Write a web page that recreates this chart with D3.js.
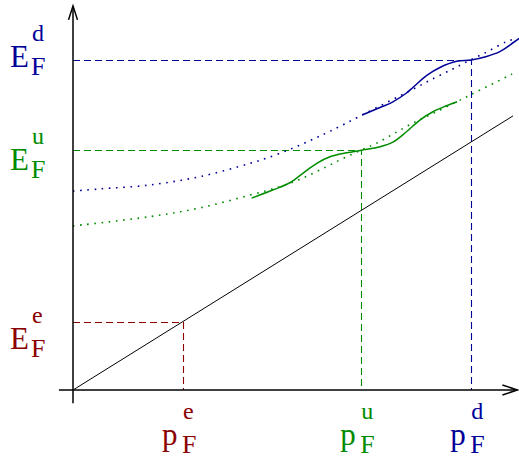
<!DOCTYPE html>
<html lang="en">
<head>
    <meta charset="UTF-8">
    <title>Fermi energies</title>
    <script src="https://cdn.jsdelivr.net/npm/d3@7"></script>
    <style>
        body { margin: 0; background: #fff; }
    </style>
</head>
<body>
    <script>
        // Fermi momenta / energies for e, u, d (chart units)
        const species = ["e", "u", "d"];
        const colors = ["#8b0000", "#008c00", "#000099"];
        const fermiMomentum = [2.5, 6.55, 9.05];
        const fermiEnergy = [1.55, 5.45, 7.5];

        // straight dispersion line (electron)
        const lineE = [[0, 0], [10, 6.23]];

        // dotted curves
        const dottedU = [[0, 3.73], [1.75, 3.94], [2.89, 4.14], [4.02, 4.43], [4.70, 4.62], [5.16, 4.79],
            [5.61, 5.0], [6.07, 5.23], [6.52, 5.44], [6.90, 5.61], [7.28, 5.82], [7.73, 6.07],
            [8.19, 6.29], [8.72, 6.55], [9.18, 6.78], [9.98, 7.18]];
        const dottedD = [[0, 4.52], [0.61, 4.57], [1.75, 4.66], [2.89, 4.85], [4.02, 5.15], [4.40, 5.27],
            [4.93, 5.47], [5.39, 5.67], [5.84, 5.88], [6.57, 6.25], [7.81, 6.88], [8.27, 7.12],
            [8.64, 7.30], [8.95, 7.46], [9.40, 7.68], [9.86, 7.92], [10.09, 7.99]];

        // solid wiggly curves
        const solidU = [[4.06, 4.36], [4.55, 4.55], [4.93, 4.71], [5.23, 4.93], [5.54, 5.15], [5.84, 5.30],
            [6.22, 5.39], [6.55, 5.45], [6.98, 5.53], [7.28, 5.64], [7.58, 5.87], [7.89, 6.14],
            [8.19, 6.33], [8.49, 6.46], [8.73, 6.55]];
        const solidD = [[6.57, 6.25], [6.98, 6.42], [7.27, 6.55], [7.58, 6.75], [7.73, 6.88], [8.04, 7.15],
            [8.34, 7.33], [8.72, 7.47], [9.05, 7.50], [9.40, 7.58], [9.70, 7.69], [9.93, 7.84], [10.14, 7.99]];

        const width = 519;
        const height = 459;
        const font = "'Times New Roman', Times, 'Liberation Serif', 'Nimbus Roman', 'DejaVu Serif', serif";

        const x = d3.scaleLinear().domain([0, 10]).range([73, 513]);
        const y = d3.scaleLinear().domain([0, 8]).range([390, 38]);

        const svg = d3.select("body").append("svg")
            .attr("width", width)
            .attr("height", height)
            .attr("viewBox", [0, 0, width, height]);

        const line = d3.line()
            .x(d => x(d[0]))
            .y(d => y(d[1]))
            .curve(d3.curveCatmullRom);

        // dashed guides
        species.forEach((s, i) => {
            const px = Math.round(x(fermiMomentum[i])) + 0.5;
            const py = Math.round(y(fermiEnergy[i])) + 0.5;
            svg.append("path")
                .attr("d", `M${x(0)},${py}H${px}V${y(0)}`)
                .attr("fill", "none")
                .attr("stroke", colors[i])
                .attr("stroke-width", 1.1)
                .attr("stroke-dasharray", "7,4");
        });

        // electron line
        svg.append("path")
            .datum(lineE)
            .attr("d", d3.line().x(d => x(d[0])).y(d => y(d[1])))
            .attr("fill", "none")
            .attr("stroke", "#000")
            .attr("stroke-width", 1);

        const curves = [
            { data: dottedD, color: colors[2], dash: "1.6,5.6", w: 1.6 },
            { data: dottedU, color: colors[1], dash: "1.6,5.6", w: 1.6 },
            { data: solidD, color: colors[2], dash: null, w: 1.5 },
            { data: solidU, color: colors[1], dash: null, w: 1.5 }
        ];
        curves.forEach(c => {
            svg.append("path")
                .datum(c.data)
                .attr("d", line)
                .attr("fill", "none")
                .attr("stroke", c.color)
                .attr("stroke-width", c.w)
                .attr("stroke-dasharray", c.dash);
        });

        // axes with open arrow heads
        const axes = svg.append("g")
            .attr("fill", "none")
            .attr("stroke", "#000")
            .attr("stroke-width", 1.5);
        const yTop = y(8.73), xEnd = x(10.1);
        axes.append("path").attr("d", `M${x(0)},${y(-0.3)}V${yTop}`);
        axes.append("path").attr("d", `M${x(0) - 4.5},${yTop + 14}L${x(0)},${yTop}L${x(0) + 4.5},${yTop + 14}`);
        axes.append("path").attr("d", `M${x(-0.32)},${y(0)}H${xEnd}`);
        axes.append("path").attr("d", `M${xEnd - 15},${y(0) - 5}L${xEnd},${y(0)}L${xEnd - 15},${y(0) + 5}`);

        // energy labels
        const eLabelOffset = [27, 20, 7];
        species.forEach((s, i) => {
            const base = y(fermiEnergy[i]) + eLabelOffset[i];
            const g = svg.append("g").attr("fill", colors[i]).style("font-family", font);
            g.append("text").attr("x", 10).attr("y", base)
                .attr("font-size", 31).text("E");
            g.append("text").attr("x", 31).attr("y", base + 8)
                .attr("font-size", 26).text("F");
            g.append("text").attr("x", 32).attr("y", base - 26)
                .attr("font-size", 24).text(s);
        });

        // momentum labels
        species.forEach((s, i) => {
            const px = x(fermiMomentum[i]);
            const g = svg.append("g").attr("fill", colors[i]).style("font-family", font);
            g.append("text").attr("x", px - 21).attr("y", 445)
                .attr("font-size", 31).text("p");
            g.append("text").attr("x", px - 1).attr("y", 453)
                .attr("font-size", 26).text("F");
            g.append("text").attr("x", px).attr("y", 419)
                .attr("font-size", 24).text(s);
        });
    </script>
</body>
</html>
